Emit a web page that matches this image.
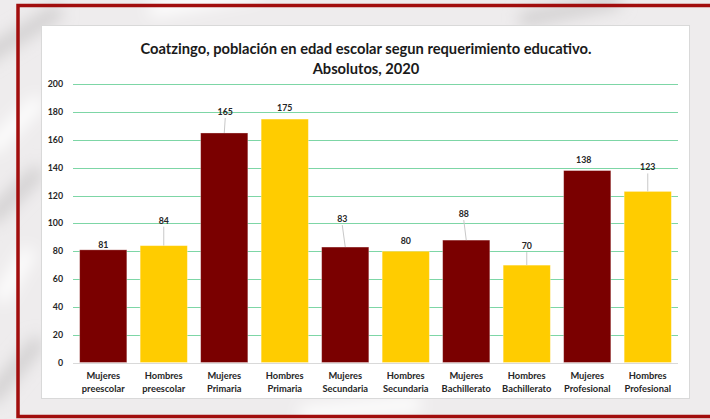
<!DOCTYPE html>
<html>
<head>
<meta charset="utf-8">
<script src="https://cdn.jsdelivr.net/npm/d3@7"></script>
<style>
  html, body { margin: 0; padding: 0; background: #efedee; }
  svg { display: block; }
</style>
</head>
<body>
<div id="chart"></div>
<script>
// data
var categories = [
  'Mujeres preescolar', 'Hombres preescolar',
  'Mujeres Primaria', 'Hombres Primaria',
  'Mujeres Secundaria', 'Hombres Secundaria',
  'Mujeres Bachillerato', 'Hombres Bachillerato',
  'Mujeres Profesional', 'Hombres Profesional'
]
var values = [81, 84, 165, 175, 83, 80, 88, 70, 138, 123]
var yTicks = [0, 20, 40, 60, 80, 100, 120, 140, 160, 180, 200]
var titleLines = [
  'Coatzingo, población en edad escolar segun requerimiento educativo.',
  'Absolutos, 2020'
]

// where Excel dropped each data label (px above the bar top, px sideways)
var labelLift = [5, 25, 21, 11, 28, 10, 26, 19, 11, 24]
var labelShift = [0, 0, 1, 0, -3, 0, -2.5, 0, -3.5, 0]

var width = 710
var height = 419
var font = 'Lato, "Open Sans", sans-serif'

var svg = d3
  .select('#chart')
  .append('svg')
  .attr('width', width)
  .attr('height', height)

var defs = svg.append('defs')
defs
  .append('filter')
  .attr('id', 'blur')
  .attr('x', '-50%')
  .attr('y', '-50%')
  .attr('width', '200%')
  .attr('height', '200%')
  .append('feGaussianBlur')
  .attr('stdDeviation', 8)

// textured backdrop, just soft streaks
svg
  .append('rect')
  .attr('width', width)
  .attr('height', height)
  .attr('fill', '#eeeced')

var streaks = svg.append('g').attr('filter', 'url(#blur)')
var streakPaths = [
  'M-20,60 L60,10',
  'M-10,150 L40,100',
  'M-10,220 L40,170',
  'M0,300 L30,250',
  'M-10,400 L40,340',
  'M150,10 L260,-10',
  'M520,20 L620,0',
  'M300,414 L420,404'
]
streaks
  .selectAll('path')
  .data(streakPaths)
  .enter()
  .append('path')
  .attr('d', d => d)
  .attr('stroke', (d, i) => (i % 2 ? '#ffffff' : '#cfcdce'))
  .attr('stroke-width', 14)
  .attr('fill', 'none')

// red frame (runs off the right edge)
svg
  .append('rect')
  .attr('x', 18)
  .attr('y', 5.5)
  .attr('width', 720)
  .attr('height', 411)
  .attr('fill', 'none')
  .attr('stroke', '#a10d0d')
  .attr('stroke-width', 3.5)

// chart box
svg
  .append('rect')
  .attr('x', 41.5)
  .attr('y', 25.5)
  .attr('width', 648)
  .attr('height', 373)
  .attr('fill', '#ffffff')
  .attr('stroke', '#d9d9d9')
  .attr('stroke-width', 1)

var title = svg
  .append('text')
  .attr('x', 366)
  .attr('y', 54)
  .attr('text-anchor', 'middle')
  .attr('font-family', font)
  .attr('font-weight', 700)
  .attr('font-size', 14.7)
  .attr('fill', '#1a1a1a')

title
  .selectAll('tspan')
  .data(titleLines)
  .enter()
  .append('tspan')
  .attr('x', 366)
  .attr('dy', (d, i) => (i === 0 ? 0 : 20))
  .text(d => d)

var xScale = d3
  .scaleBand()
  .domain(categories)
  .range([73, 678])
  .paddingInner(0.22)
  .paddingOuter(0.11)

var yScale = d3
  .scaleLinear()
  .domain([0, 200])
  .range([362.5, 84.3])

// grid
svg
  .selectAll('.grid')
  .data(yTicks.filter(d => d > 0))
  .enter()
  .append('line')
  .attr('class', 'grid')
  .attr('x1', 73)
  .attr('x2', 678)
  .attr('y1', d => Math.round(yScale(d)) + 0.5)
  .attr('y2', d => Math.round(yScale(d)) + 0.5)
  .attr('stroke', '#7dd6a6')
  .attr('stroke-width', 1)

svg
  .append('line')
  .attr('x1', 73)
  .attr('x2', 678)
  .attr('y1', Math.round(yScale(0)) + 0.5)
  .attr('y2', Math.round(yScale(0)) + 0.5)
  .attr('stroke', '#d9d9d9')

// y axis labels
svg
  .selectAll('.y-label')
  .data(yTicks)
  .enter()
  .append('text')
  .attr('class', 'y-label')
  .attr('x', 63)
  .attr('y', d => yScale(d) + 3)
  .attr('text-anchor', 'end')
  .attr('font-family', font)
  .attr('font-weight', 700)
  .attr('font-size', 8.8)
  .attr('fill', '#262626')
  .text(d => d)

// bars
svg
  .selectAll('.bar')
  .data(values)
  .enter()
  .append('rect')
  .attr('class', 'bar')
  .attr('x', (d, i) => xScale(categories[i]))
  .attr('y', d => yScale(d))
  .attr('width', xScale.bandwidth())
  .attr('height', d => yScale(0) - yScale(d))
  .attr('fill', (d, i) => (i % 2 === 0 ? '#7a0000' : '#ffcc00'))
  .attr('stroke', '#ffffff')
  .attr('stroke-opacity', 0.4)
  .attr('stroke-width', 0.8)

// leader lines for labels pushed away from their bar
svg
  .selectAll('.leader')
  .data(values)
  .enter()
  .filter((d, i) => labelLift[i] > 15)
  .append('line')
  .attr('class', 'leader')
  .attr('x1', function(d) {
    var i = values.indexOf(d)
    return xScale(categories[i]) + xScale.bandwidth() / 2 + labelShift[i]
  })
  .attr('y1', function(d) {
    var i = values.indexOf(d)
    return yScale(d) - labelLift[i] + 6
  })
  .attr('x2', function(d) {
    var i = values.indexOf(d)
    return xScale(categories[i]) + xScale.bandwidth() / 2
  })
  .attr('y2', d => yScale(d))
  .attr('stroke', '#c8c8c8')
  .attr('stroke-width', 1)

// value labels
svg
  .selectAll('.value')
  .data(values)
  .enter()
  .append('text')
  .attr('class', 'value')
  .attr('x', (d, i) => xScale(categories[i]) + xScale.bandwidth() / 2 + labelShift[i])
  .attr('y', (d, i) => yScale(d) - labelLift[i] + 3)
  .attr('text-anchor', 'middle')
  .attr('font-family', font)
  .attr('font-weight', 700)
  .attr('font-size', 8.8)
  .attr('fill', '#262626')
  .text(d => d)

// category labels, two lines each
var xLabels = svg
  .selectAll('.x-label')
  .data(categories)
  .enter()
  .append('text')
  .attr('class', 'x-label')
  .attr('text-anchor', 'middle')
  .attr('font-family', font)
  .attr('font-weight', 700)
  .attr('font-size', 9.3)
  .attr('fill', '#262626')
  .attr('y', 379)

xLabels
  .selectAll('tspan')
  .data(d => d.split(' ').map(w => ({ word: w, cat: d })))
  .enter()
  .append('tspan')
  .attr('x', d => xScale(d.cat) + xScale.bandwidth() / 2)
  .attr('dy', (d, i) => (i === 0 ? 0 : 12.5))
  .text(d => d.word)
</script>
</body>
</html>
